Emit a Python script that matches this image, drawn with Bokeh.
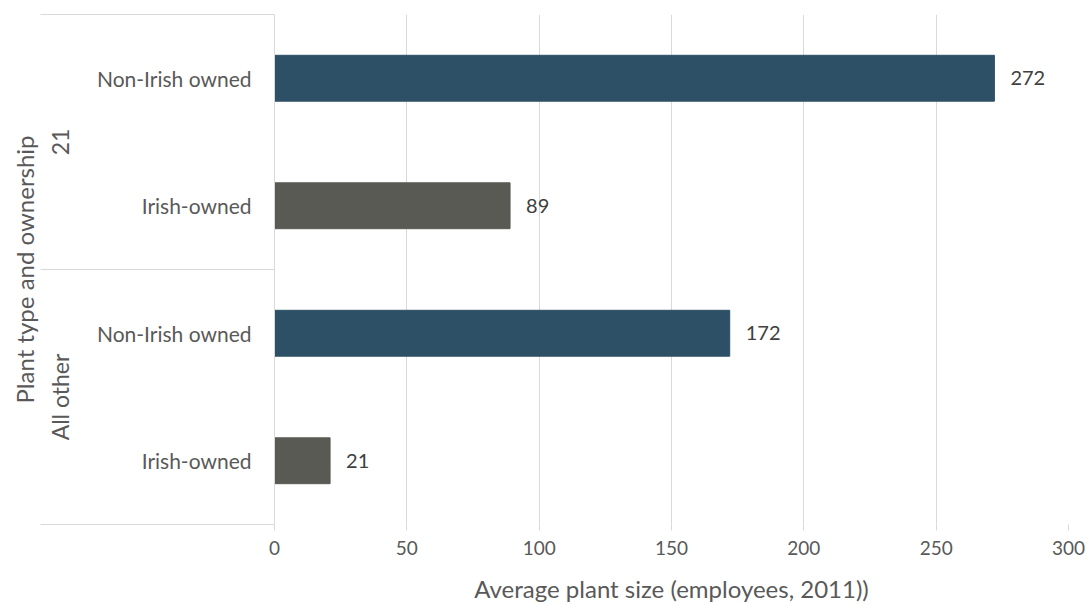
from bokeh.plotting import figure
from bokeh.models import Range1d, FixedTicker, LinearAxis, ColumnDataSource
from bokeh.core.properties import value
from bokeh.embed import file_html
from bokeh.resources import INLINE

# ---- data ----
groups = ["21", "21", "All other", "All other"]
ownership = ["Non-Irish owned", "Irish-owned", "Non-Irish owned", "Irish-owned"]
avg_size = [272, 89, 172, 21]
bar_colors = ["#2E5066", "#5A5A55", "#2E5066", "#5A5A55"]
x_ticks = [0, 50, 100, 150, 200, 250, 300]
x_title = "Average plant size (employees, 2011))"
y_title = "Plant type and ownership"

FONT = "Lato"
TXT = "#595959"
GRID = "#D9D9D9"

n = len(ownership)
# each category occupies 2 units; top category first
ypos = [2 * (n - i) - 1 for i in range(n)]
labels = [str(v) for v in avg_size]

src = ColumnDataSource(dict(y=ypos, right=avg_size, color=bar_colors, label=labels))

p = figure(width=1092, height=605, output_backend="svg", toolbar_location=None,
           x_range=Range1d(0, 300), y_range=Range1d(0, 2 * n),
           min_border_left=274, min_border_right=24, min_border_top=14, min_border_bottom=81)
p.outline_line_color = None
p.background_fill_color = "white"
p.border_fill_color = "white"

p.hbar(y="y", right="right", left=0, height=0.72, color="color", source=src)
p.text(x="right", y="y", text="label", x_offset=16, text_baseline="middle", text_align="left",
       text_font=value(FONT), text_font_size="20px", text_color="#404040", source=src)

# x axis
xa = p.xaxis[0]
xa.ticker = FixedTicker(ticks=x_ticks)
xa.axis_line_color = None
xa.major_tick_line_color = GRID
xa.major_tick_in = 0
xa.major_tick_out = 6
xa.minor_tick_line_color = None
xa.major_label_text_font = FONT
xa.major_label_text_font_size = "19px"
xa.major_label_text_color = TXT
xa.major_label_standoff = 10
xa.axis_label = x_title
xa.axis_label_text_font = FONT
xa.axis_label_text_font_size = "24px"
xa.axis_label_text_font_style = "normal"
xa.axis_label_text_color = TXT
xa.axis_label_standoff = 16

p.xgrid.grid_line_color = GRID
p.xgrid.ticker = FixedTicker(ticks=x_ticks)
p.ygrid.grid_line_color = None

# inner y axis: ownership labels + separator lines
group_names = []
for g in groups:
    if g not in group_names:
        group_names.append(g)
sep_ticks = [0]
grp_ticks = {}
start = 0
for g in reversed(group_names):
    cnt = groups.count(g)
    grp_ticks[start + cnt] = g
    start += 2 * cnt
    sep_ticks.append(start)

ya = p.yaxis[0]
ya.ticker = FixedTicker(ticks=ypos, minor_ticks=sep_ticks)
ya.major_label_overrides = {y: o for y, o in zip(ypos, ownership)}
ya.major_tick_line_color = None
ya.major_tick_out = 0
ya.major_tick_in = 0
ya.minor_tick_line_color = GRID
ya.minor_tick_in = 0
ya.minor_tick_out = 234
ya.axis_line_color = GRID
ya.major_label_text_font = FONT
ya.major_label_text_font_size = "21px"
ya.major_label_text_color = TXT
ya.major_label_standoff = 23 - 234

# outer y axis: group labels + title
ya2 = LinearAxis(ticker=FixedTicker(ticks=list(grp_ticks.keys())),
                 major_label_overrides=grp_ticks,
                 major_label_orientation="parallel",
                 major_tick_line_color=None, minor_tick_line_color=None,
                 axis_line_color=None,
                 major_tick_in=0, major_tick_out=0,
                 major_label_standoff=20,
                 major_label_text_font=FONT, major_label_text_font_size="23px",
                 major_label_text_color=TXT,
                 axis_label=y_title, axis_label_text_font=FONT,
                 axis_label_text_font_size="24px", axis_label_text_font_style="normal",
                 axis_label_text_color=TXT, axis_label_standoff=4)
p.add_layout(ya2, "left")

open("out.html", "w").write(file_html(p, INLINE))
